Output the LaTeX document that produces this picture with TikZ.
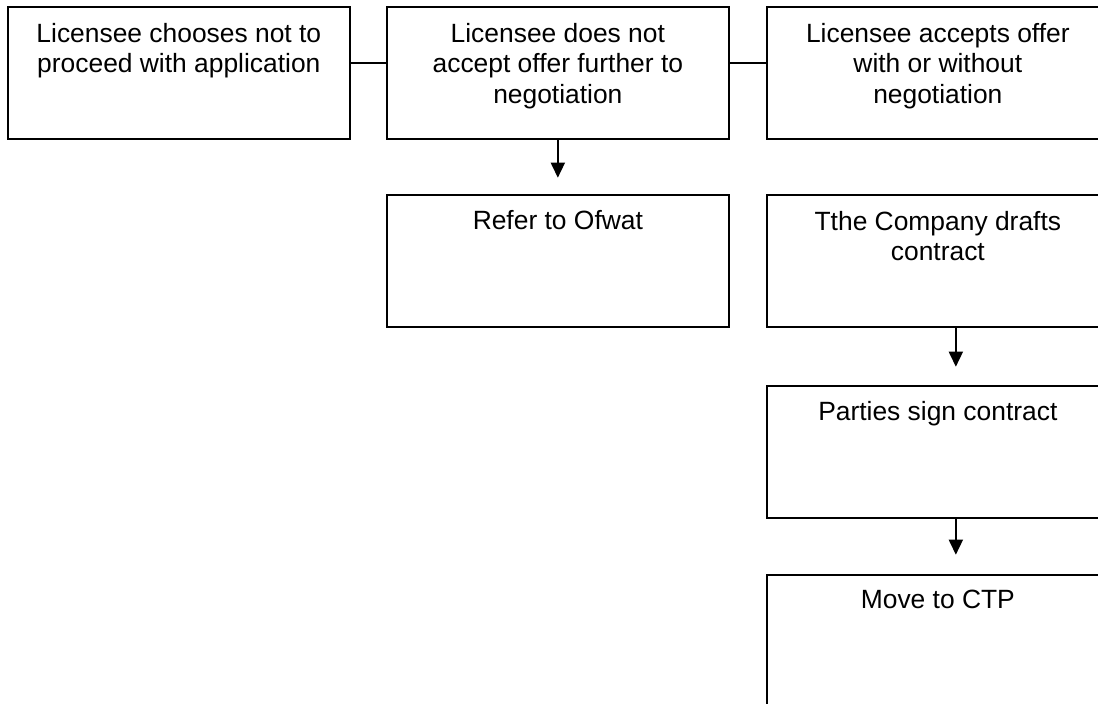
\documentclass[tikz,border=0pt]{standalone}
\usepackage{fontspec}
\setmainfont{Liberation Sans}
\usetikzlibrary{arrows.meta}
\begin{document}
\begin{tikzpicture}[x=1pt,y=1pt,
 box/.style={draw, line width=1.7pt, minimum width=342pt, minimum height=132pt, inner sep=0pt, anchor=north west},
 txt/.style={anchor=north, inner sep=0pt, align=center, font=\fontsize{26.4}{30.4}\selectfont},
 arr/.style={line width=1.7pt, -{Triangle[width=14pt,length=15pt]}},
 conn/.style={line width=1.7pt}]
\useasboundingbox (0,0) rectangle (1098,-704);
% boxes
\node[box] (b1) at (7,-6) {};
\node[box] (b2) at (386,-6) {};
\node[box] (b3) at (766,-6) {};
\node[box] (b4) at (386,-194) {};
\node[box] (b5) at (766,-194) {};
\node[box] (b6) at (766,-385) {};
\node[box] (b7) at (766,-574) {};
% texts
\node[txt] (t1) at ([yshift=-17pt]b1.north) {Licensee chooses not to\\proceed with application};
\node[txt] (t2) at ([yshift=-17pt]b2.north) {Licensee does not\\accept offer further to\\negotiation};
\node[txt] (t3) at ([yshift=-17pt]b3.north) {Licensee accepts offer\\with or without\\negotiation};
\node[txt] (t4) at ([yshift=-16pt]b4.north) {Refer to Ofwat};
\node[txt] (t5) at ([yshift=-17pt]b5.north) {Tthe Company drafts\\contract};
\node[txt] (t6) at ([yshift=-16pt]b6.north) {Parties sign contract};
\node[txt] (t7) at ([yshift=-16pt]b7.north) {Move to CTP};
% connectors
\draw[conn] ([yshift=10pt]b1.east) -- ([yshift=10pt]b2.west);
\draw[conn] ([yshift=10pt]b2.east) -- ([yshift=10pt]b3.west);
\coordinate (e1) at ([yshift=-38pt]b2.south);
\coordinate (e2) at ([xshift=18pt,yshift=-39pt]b5.south);
\coordinate (e3) at ([xshift=18pt,yshift=-36pt]b6.south);
\draw[arr] (b2.south) -- (e1);
\draw[arr] ([xshift=18pt]b5.south) -- (e2);
\draw[arr] ([xshift=18pt]b6.south) -- (e3);
\end{tikzpicture}
\end{document}
